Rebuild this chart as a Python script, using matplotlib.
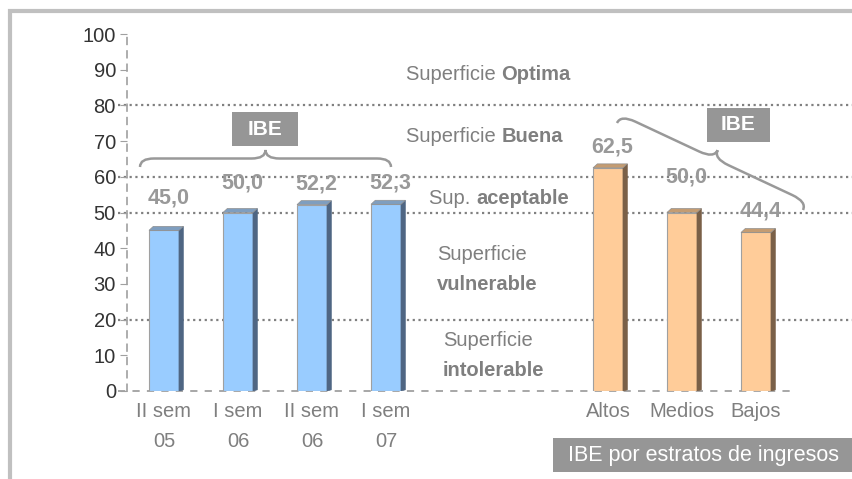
import matplotlib
matplotlib.use("Agg")
import matplotlib.pyplot as plt
from matplotlib.patches import Rectangle, Polygon, PathPatch
from matplotlib.path import Path
from matplotlib.lines import Line2D
import numpy as np

plt.rcParams['font.family'] = ['Liberation Sans', 'DejaVu Sans']

# ---- data ----
cats_left = ["II sem\n05", "I sem\n06", "II sem\n06", "I sem\n07"]
vals_left = [45.0, 50.0, 52.2, 52.3]
cats_right = ["Altos", "Medios", "Bajos"]
vals_right = [62.5, 50.0, 44.4]
yticks = [0, 10, 20, 30, 40, 50, 60, 70, 80, 90, 100]
thresholds = [20, 50, 60, 80]

# ---- style ----
W, H = 853, 479
fig = plt.figure(figsize=(W / 100, H / 100), dpi=100)
fig.patch.set_facecolor('white')

ax_l, ax_r, ax_t, ax_b = 127, 793, 34, 391
ax = fig.add_axes([ax_l / W, 1 - ax_b / H, (ax_r - ax_l) / W, (ax_b - ax_t) / H])
ax.set_xlim(-0.5, 8.5)
ax.set_ylim(0, 100)
ax.patch.set_alpha(0)

px_x = (ax_r - ax_l) / 9.0      # pixels per category unit
px_y = (ax_b - ax_t) / 100.0    # pixels per value unit

pos_left = list(range(len(cats_left)))
pos_right = [6, 7, 8]

gray_txt = '#7f7f7f'
label_gray = '#999999'
FS = 14.5

# threshold dotted lines (extend beyond the axes)
for t in thresholds:
    ax.plot([-9 / (ax_r - ax_l), (W - ax_l) / (ax_r - ax_l)], [t, t],
            transform=ax.get_yaxis_transform(), color='#808080',
            linestyle=(0, (1.0, 1.6)), lw=1.6, clip_on=False, zorder=1)

# baseline
ax.plot([-9 / (ax_r - ax_l), 1.0], [0, 0], transform=ax.get_yaxis_transform(),
        color='#a0a0a0', linestyle=(0, (4, 4)), lw=1.3, clip_on=False, zorder=1)

bw = 30 / px_x
dx = 4.3 / px_x
dy = 4.0 / px_y


def bar3d(x, v, front, top, side):
    ax.bar(x, v, width=bw, color=front, edgecolor='#a0a0a0', lw=0.8, zorder=3)
    xl, xr = x - bw / 2, x + bw / 2
    ax.add_patch(Polygon([(xr, 0), (xr + dx, dy * 0.3), (xr + dx, v + dy), (xr, v)],
                         closed=True, facecolor=side, edgecolor=side, lw=0.5, zorder=3))
    ax.add_patch(Polygon([(xl, v), (xl + dx, v + dy), (xr + dx, v + dy), (xr, v)],
                         closed=True, facecolor=top, edgecolor='#909090', lw=0.5, zorder=3))


for x, v in zip(pos_left, vals_left):
    bar3d(x, v, '#99ccff', '#7f9ebf', '#4f6683')
for x, v in zip(pos_right, vals_right):
    bar3d(x, v, '#ffcc99', '#c49c72', '#7a6048')

# value labels (pixel offsets above the bar tops)
offs_left = [32, 29, 21, 21]
offs_right = [21, 35, 21]
for x, v, o in zip(pos_left + pos_right, vals_left + vals_right, offs_left + offs_right):
    ax.annotate(f"{v:.1f}".replace('.', ','), xy=(x, v), xytext=(3, o * 0.72),
                textcoords='offset points', ha='center', va='center',
                fontsize=15.5, fontweight='bold', color=label_gray, zorder=5)

# axes styling
for s in ['top', 'right', 'bottom']:
    ax.spines[s].set_visible(False)
ax.spines['left'].set_color('#a0a0a0')
ax.spines['left'].set_linestyle((0, (4, 4)))
ax.spines['left'].set_linewidth(1.2)
ax.set_yticks(yticks)
ax.set_yticklabels([str(t) for t in yticks], fontsize=14.5, color='#333333')
ax.tick_params(axis='y', length=5, width=0.8, color='#a0a0a0', pad=3)
ax.set_xticks(pos_left + pos_right)
ax.set_xticklabels(cats_left + cats_right, fontsize=14.5, color=gray_txt, linespacing=1.7)
ax.tick_params(axis='x', length=0, pad=8)


def px2data(xp, yp):
    return ((xp - ax_l) / px_x - 0.5, (ax_b - yp) / px_y)


def two_part(xp, yp, normal, bold):
    x, y = px2data(xp, yp)
    t1 = ax.text(x, y, normal, fontsize=FS, color=gray_txt, ha='left', va='center', zorder=4)
    ax.annotate(bold, xy=(1, 0), xycoords=t1, ha='left', va='bottom',
                fontsize=FS, fontweight='bold', color=gray_txt, zorder=4)


two_part(406, 74, "Superficie ", "Optima")
two_part(406, 136, "Superficie ", "Buena")
two_part(429, 198, "Sup. ", "aceptable")
for xp, yp, s, w in [(437, 255, "Superficie", 'normal'), (437, 284, "vulnerable", 'bold'),
                     (443, 341, "Superficie", 'normal'), (443, 370, "intolerable", 'bold')]:
    x, y = px2data(xp, yp)
    ax.text(x, y, s, fontsize=FS, fontweight=w, color=gray_txt, ha='left', va='center')


# ---- figure-level decorations (pixel coordinates) ----
def fx(x):
    return x / W


def fy(y):
    return 1 - y / H


def box(x0, y0, x1, y1, text, weight, tx=None, fs=FS):
    fig.add_artist(Rectangle((fx(x0), fy(y1)), fx(x1) - fx(x0), fy(y0) - fy(y1),
                             transform=fig.transFigure, facecolor='#969696',
                             edgecolor='none', zorder=6))
    if tx is None:
        fig.text(fx((x0 + x1) / 2), fy((y0 + y1) / 2), text, ha='center', va='center',
                 color='white', fontsize=fs, fontweight=weight, zorder=7)
    else:
        fig.text(fx(tx), fy((y0 + y1) / 2), text, ha='left', va='center',
                 color='white', fontsize=fs, fontweight=weight, zorder=7)


box(232, 112, 298, 146, "IBE", 'bold', fs=15)
box(707, 108, 770, 142, "IBE", 'bold', fs=15)
box(553, 438, 860, 472, "IBE por estratos de ingresos", 'normal', tx=568, fs=15.5)


def brace(p0, p1, h, r):
    p0 = np.array(p0, float)
    p1 = np.array(p1, float)
    d = p1 - p0
    L = np.hypot(*d)
    u = d / L
    n = np.array([u[1], -u[0]])
    a = h / 2.0
    local = [((0, 0), Path.MOVETO), ((0, a), Path.CURVE3), ((r, a), Path.CURVE3),
             ((L / 2 - r, a), Path.LINETO), ((L / 2, a), Path.CURVE3), ((L / 2, h), Path.CURVE3),
             ((L / 2, a), Path.CURVE3), ((L / 2 + r, a), Path.CURVE3),
             ((L - r, a), Path.LINETO), ((L, a), Path.CURVE3), ((L, 0), Path.CURVE3)]
    verts, codes = [], []
    for (s, t), c in local:
        p = p0 + u * s + n * t
        verts.append((fx(p[0]), fy(p[1])))
        codes.append(c)
    fig.add_artist(PathPatch(Path(verts, codes), transform=fig.transFigure, fill=False,
                             edgecolor='#999999', lw=1.8, zorder=6))


brace((140, 167), (391, 167), 17, 14)
brace((617, 123), (803, 210), 18, 16)

# outer frame (top and left edges visible)
fig.add_artist(Line2D([fx(9.5), fx(9.5), 1.0], [0.0, fy(11), fy(11)],
                      transform=fig.transFigure, color='#c0c0c0', lw=3,
                      solid_joinstyle='miter', zorder=10))

fig.savefig("out.png", dpi=100)
